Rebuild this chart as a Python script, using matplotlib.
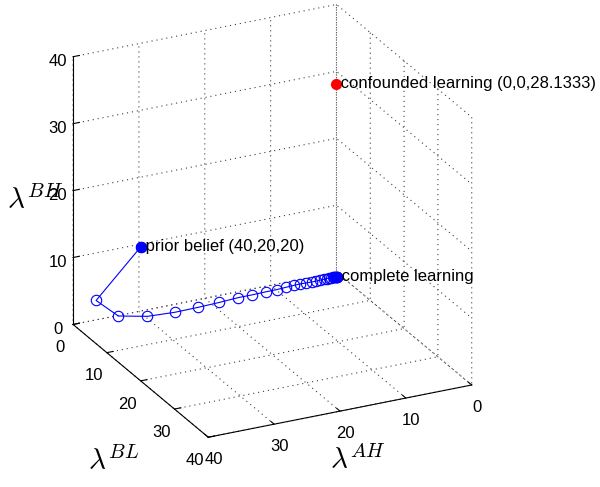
import numpy as np
import matplotlib
matplotlib.use('Agg')
import matplotlib.pyplot as plt

plt.rcParams['font.family'] = ['Liberation Sans', 'DejaVu Sans']
plt.rcParams['mathtext.fontset'] = 'cm'
plt.rcParams['grid.linestyle'] = (0, (1, 3.5))
plt.rcParams['grid.color'] = '0.25'
plt.rcParams['grid.linewidth'] = 0.8

# learning path, coordinates are (lambda_AH, lambda_BL, lambda_BH)
path_ah = [40, 36.5, 33.2, 29.7, 25.7, 22.1, 18.8, 15.8, 13.7, 11.5, 9.9,
           8.4, 7.1, 6.2, 5.3, 4.5, 3.8, 3.2, 2.6, 2.1, 1.75, 1.45, 1.2,
           1.0, 0.85, 0.75, 0.68, 0.62, 0.58]
path_bl = [20, 0.0, 0.15, 1.9, 2.3, 2.2, 2.0, 1.7, 1.7, 1.6, 1.6,
           1.45, 1.35, 1.3, 1.35, 1.4, 1.4, 1.35, 1.3, 1.27, 1.27, 1.27, 1.27,
           1.27, 1.27, 1.27, 1.27, 1.27, 1.27]
path_bh = [20, 2.9, 0, 0, 0, 0, 0, 0, 0, 0, 0,
           0, 0, 0, 0, 0, 0, 0, 0, 0, 0, 0, 0,
           0, 0, 0, 0, 0, 0]

confounded = (0, 0, 28.1333)
ticks = [0, 10, 20, 30, 40]
FS = 12

fig = plt.figure(figsize=(6, 4.87), dpi=100)
ax = fig.add_axes([-0.057, 0.033, 1, 1], projection='3d', proj_type='ortho')
ax.view_init(elev=24, azim=64)
ax.set_box_aspect((0.95, 1, 0.95), zoom=1.03)

for a in (ax.xaxis, ax.yaxis, ax.zaxis):
    a.pane.fill = False
    a.pane.set_edgecolor('none')
    a.line.set_color('k')
    a.line.set_linewidth(0.8)
    a._axinfo['tick']['inward_factor'] = 0.0
    a._axinfo['tick']['outward_factor'] = 0.3
    a.offsetText.set_visible(False)

ax.plot(path_ah, path_bl, path_bh, '-o', color='b', mfc='none',
        ms=7.5, lw=0.8, mew=0.8)
ax.plot([path_ah[0]], [path_bl[0]], [path_bh[0]], 'o', color='b', ms=7)
ax.plot([path_ah[-1]], [path_bl[-1]], [path_bh[-1]], 'o', color='b', ms=7)
ax.plot([confounded[0]], [confounded[1]], [confounded[2]], 'o',
        color='r', ms=7)

ax.text(path_ah[0], path_bl[0], path_bh[0], ' prior belief (40,20,20)',
        ha='left', va='center', fontsize=FS)
ax.text(path_ah[-1], path_bl[-1], path_bh[-1], ' complete learning',
        ha='left', va='center', fontsize=FS)
ax.text(*confounded, ' confounded learning (0,0,28.1333)',
        ha='left', va='center', fontsize=FS)

ax.set_xlim(0, 40)
ax.set_ylim(0, 40)
ax.set_zlim(0, 40)
ax.set_xticks(ticks)
ax.set_yticks(ticks)
ax.set_zticks(ticks)
ax.tick_params(labelsize=FS, pad=-1)
ax.yaxis.set_tick_params(pad=1)

# axis titles, placed like the original figure
fig.text(0.058, 0.59, r'$\lambda^{BH}$', fontsize=21, ha='center', va='center')
fig.text(0.19, 0.055, r'$\lambda^{BL}$', fontsize=21, ha='center', va='center')
fig.text(0.597, 0.055, r'$\lambda^{AH}$', fontsize=21, ha='center', va='center')

fig.savefig('out.png', dpi=100)
